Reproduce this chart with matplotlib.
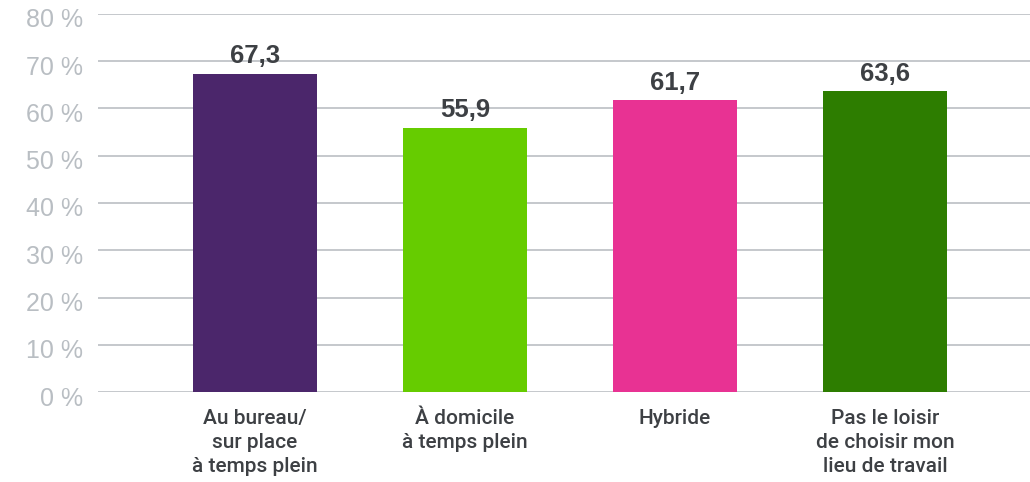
import matplotlib
matplotlib.use("Agg")
import matplotlib.pyplot as plt
import matplotlib.transforms as mtransforms

categories = ["Au bureau/\nsur place\nà temps plein", "À domicile\nà temps plein", "Hybride",
              "Pas le loisir\nde choisir mon\nlieu de travail"]
values = [67.3, 55.9, 61.7, 63.6]
value_labels = ["67,3", "55,9", "61,7", "63,6"]
colors = ["#4b266b", "#66cc00", "#e83293", "#2d7d00"]
yticks = [0, 10, 20, 30, 40, 50, 60, 70, 80]
ytick_labels = [f"{v} %" for v in yticks]

plt.rcParams['font.family'] = ['Liberation Sans', 'DejaVu Sans']

fig = plt.figure(figsize=(10.30, 4.82), dpi=100)
ax = fig.add_axes([98/1030, 1-392/482, 1-98/1030, (392-14)/482])

x = list(range(len(categories)))
bars = ax.bar(x, values, width=0.59, color=colors, zorder=3)
for xi, v, lab in zip(x, values, value_labels):
    ax.annotate(lab, (xi, v), xytext=(0, 4), textcoords="offset points",
                ha="center", va="bottom", fontsize=18.5, fontweight="bold",
                color="#3d4044", zorder=4)

ax.set_xlim(-0.748, 3.69)
ax.set_ylim(0, 80)
ax.set_yticks(yticks)
ax.set_yticklabels(ytick_labels, fontsize=18, color="#b9bec3")
ax.set_xticks(x)
ax.set_xticklabels(categories, fontsize=15, color="#3d4044", linespacing=1.36,
                   family=['Roboto', 'DejaVu Sans'], fontweight='medium')
ax.tick_params(axis="both", length=0)
ax.tick_params(axis="y", pad=11)
ax.tick_params(axis="x", pad=12)
offset = mtransforms.ScaledTranslation(0, -4/100, fig.dpi_scale_trans)
for lbl in ax.get_yticklabels():
    lbl.set_transform(lbl.get_transform() + offset)
ax.grid(axis="y", color="#c5c8cc", linewidth=1.4, zorder=0)
for s in ax.spines.values():
    s.set_visible(False)

fig.savefig("out.png", dpi=100)
